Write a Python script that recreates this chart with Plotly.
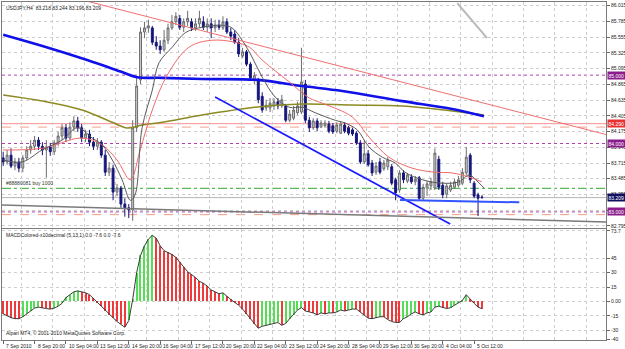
import plotly.graph_objects as go

# ---------------- data (USDJPY H4) ----------------
open_ = [83.79, 83.73, 83.83, 83.67, 83.73, 83.64, 83.79, 83.905, 83.96, 84.05,
         83.96, 83.905, 83.95, 83.88, 84.01, 84.11, 84.23, 84.08, 84.24, 84.33,
         84.23, 84.08, 84.14, 84.02, 83.96, 84.02, 83.83, 83.58, 83.64, 83.29,
         83.35, 83.115, 83.06, 83.03, 84.23, 84.93, 85.63, 85.69, 85.69, 85.48,
         85.425, 85.37, 85.51, 85.69, 85.78, 85.83, 85.70, 85.78, 85.78, 85.69,
         85.75, 85.78, 85.70, 85.75, 85.69, 85.73, 85.69, 85.78, 85.63, 85.60,
         85.48, 85.28, 85.34, 85.16, 84.93, 84.93, 84.69, 84.52, 84.52, 84.55,
         84.61, 84.55, 84.55, 84.34, 84.37, 84.45, 84.46, 84.87, 84.34, 84.23,
         84.33, 84.24, 84.26, 84.285, 84.26, 84.18, 84.15, 84.27, 84.23, 84.20,
         84.15, 84.01, 83.73, 83.85, 83.715, 83.58, 83.73, 83.63, 83.66, 83.66,
         83.47, 83.32, 83.57, 83.45, 83.51, 83.44, 83.50, 83.20, 83.35, 83.38,
         83.35, 83.77, 83.39, 83.26, 83.32, 83.36, 83.39, 83.42, 83.57, 83.83,
         83.42, 83.25, 83.218]
high = [83.88, 83.905, 83.93, 83.79, 83.79, 83.83, 83.96, 84.05, 84.11, 84.095,
        84.02, 84.05, 84.01, 84.05, 84.17, 84.285, 84.285, 84.31, 84.40, 84.39,
        84.285, 84.20, 84.20, 84.095, 84.08, 84.05, 83.905, 83.73, 83.69, 83.41,
        83.38, 83.20, 83.115, 84.34, 84.96, 85.70, 85.78, 85.81, 85.72, 85.57,
        85.51, 85.66, 85.75, 85.88, 85.92, 85.88, 85.83, 85.94, 85.83, 85.83,
        85.94, 85.86, 85.83, 85.83, 85.81, 85.81, 85.86, 85.83, 85.69, 85.66,
        85.54, 85.40, 85.37, 85.19, 85.045, 84.96, 84.75, 84.64, 84.665, 84.665,
        84.665, 84.71, 84.58, 84.49, 84.55, 84.61, 85.40, 84.93, 84.39, 84.37,
        84.37, 84.34, 84.34, 84.33, 84.30, 84.31, 84.33, 84.31, 84.26, 84.23,
        84.18, 84.05, 84.04, 83.905, 83.76, 83.73, 83.79, 83.76, 83.80, 83.70,
        83.50, 83.61, 83.61, 83.57, 83.55, 83.525, 83.525, 83.41, 83.45, 83.50,
        83.93, 83.82, 83.44, 83.42, 83.44, 83.48, 83.525, 83.64, 83.95, 83.86,
        83.45, 83.28, 83.244]
low = [83.67, 83.69, 83.64, 83.61, 83.58, 83.58, 83.76, 83.85, 83.905, 83.905,
       83.83, 83.50, 83.82, 83.83, 83.96, 84.05, 84.02, 84.05, 84.18, 84.17,
       84.02, 84.02, 83.96, 83.905, 83.905, 83.79, 83.525, 83.525, 83.17, 83.23,
       83.06, 82.93, 82.91, 82.87, 84.17, 84.87, 85.54, 85.62, 85.44, 85.37,
       85.31, 85.34, 85.455, 85.66, 85.73, 85.66, 85.63, 85.72, 85.645, 85.645,
       85.70, 85.66, 85.63, 85.54, 85.63, 85.66, 85.66, 85.60, 85.51, 85.455,
       85.265, 85.25, 85.13, 84.93, 84.87, 84.59, 84.45, 84.475, 84.46, 84.49,
       84.50, 84.52, 84.31, 84.31, 84.34, 84.42, 84.43, 84.30, 84.17, 84.20,
       84.18, 84.23, 84.23, 84.15, 84.14, 84.15, 84.14, 84.15, 84.12, 84.11,
       83.98, 83.70, 83.70, 83.66, 83.525, 83.54, 83.55, 83.60, 83.61, 83.39,
       83.17, 83.28, 83.42, 83.42, 83.41, 83.39, 83.17, 83.17, 83.23, 83.32,
       83.32, 83.32, 83.20, 83.20, 83.29, 83.335, 83.36, 83.39, 83.54, 83.42,
       83.20, 82.94, 83.196]
close = [83.73, 83.83, 83.67, 83.73, 83.64, 83.79, 83.905, 83.96, 84.05, 83.96,
         83.905, 83.95, 83.88, 84.01, 84.11, 84.23, 84.08, 84.24, 84.33, 84.23,
         84.08, 84.14, 84.02, 83.96, 84.02, 83.83, 83.58, 83.64, 83.29, 83.35,
         83.115, 83.06, 83.03, 84.23, 84.84, 85.63, 85.69, 85.72, 85.48, 85.425,
         85.37, 85.51, 85.69, 85.78, 85.86, 85.70, 85.78, 85.83, 85.69, 85.75,
         85.83, 85.70, 85.75, 85.69, 85.73, 85.70, 85.78, 85.63, 85.57, 85.48,
         85.31, 85.34, 85.16, 84.96, 84.99, 84.64, 84.49, 84.56, 84.59, 84.61,
         84.55, 84.64, 84.34, 84.43, 84.49, 84.55, 84.90, 84.34, 84.23, 84.33,
         84.23, 84.30, 84.30, 84.18, 84.17, 84.27, 84.285, 84.18, 84.15, 84.14,
         84.01, 83.73, 83.85, 83.69, 83.57, 83.67, 83.58, 83.715, 83.76, 83.42,
         83.28, 83.57, 83.47, 83.54, 83.44, 83.48, 83.20, 83.36, 83.41, 83.44,
         83.86, 83.36, 83.25, 83.38, 83.39, 83.44, 83.47, 83.58, 83.80, 83.47,
         83.23, 83.20, 83.209]

macd = [-13, -15, -17, -18, -18, -16, -13, -10, -7, -6,
        -7, -7.5, -8, -7, -5, -2, 4, 7, 10, 11,
        10, 9, 7, 3, -1, -5, -10, -14, -17, -21,
        -24, -27, -20, 2, 30, 48, 58, 65, 69, 66,
        58, 53, 51, 49, 46, 41, 36, 31, 28, 25,
        21, 19, 16, 12, 10, 8, 9, 5, 2, -1,
        -4, -8, -13, -19, -24, -28, -26, -25, -24, -23,
        -22, -25, -23, -18, -14, -9, -6.5, -10, -11, -12,
        -14, -12, -13, -12, -12, -11, -9, -10, -9, -8,
        -8, -11, -14, -17.5, -18, -17, -16, -16, -19, -21,
        -22, -22, -18, -16, -13, -11, -13, -14, -12, -11,
        -6, -5, -6.5, -7.5, -6.5, -4, -2, 1, 7, 2,
        -2, -6, -7.6]

# moving averages (bar index, price)
ma_fast_bar = [0, 4.8, 9.9, 15, 18.9, 22.7, 25.2, 27.8, 30.3, 32.4, 33.6, 35.4, 38, 39.7, 43.1, 46.4,
               50.7, 55.8, 58.3, 60.9, 63.4, 66, 69.3, 72.9, 76.2, 79.5, 84.6, 87.1, 90.2, 93.2,
               96.6, 99.9, 102.4, 106.8, 111.8, 116.2, 118.7, 121.3, 122.5]
ma_fast_val = [83.76, 83.73, 83.905, 84.05, 84.23, 84.08, 83.98, 83.76, 83.47, 83.17, 83.25, 84.23,
               84.78, 85.18, 85.41, 85.62, 85.70, 85.73, 85.69, 85.51, 85.265, 84.97, 84.68, 84.53,
               84.53, 84.45, 84.34, 84.30, 84.20, 83.95, 83.80, 83.715, 83.58, 83.47, 83.42, 83.44,
               83.54, 83.42, 83.35]
ma_red_bar = [0, 9.9, 20.1, 25.2, 29, 32.4, 34.9, 38, 41.8, 47.4, 53.2, 59.1, 62.7, 66, 72.9, 78,
              81.3, 88.9, 93.2, 98.3, 104.2, 110.1, 114.4, 118.7, 122]
ma_red_val = [83.905, 83.93, 84.08, 83.98, 83.76, 83.47, 83.905, 84.49, 85.0, 85.41, 85.51, 85.48,
              85.41, 85.22, 84.90, 84.665, 84.59, 84.39, 84.095, 83.80, 83.64, 83.58, 83.57, 83.51,
              83.44]
ma_blue_bar = [0, 10, 21.4, 30.3, 34.1, 40.5, 50.7, 64.7, 76.2, 86.4, 101.7, 114.4, 122.5]
ma_blue_val = [85.59, 85.425, 85.22, 85.045, 84.97, 84.96, 84.943, 84.93, 84.84, 84.768, 84.62,
               84.505, 84.40]
ma_olive_bar = [0, 10, 20.1, 27.8, 31.6, 35.4, 40.5, 50.7, 64.2, 76.2, 88.9, 101.7, 114.4, 122.5]
ma_olive_val = [84.71, 84.62, 84.49, 84.31, 84.227, 84.27, 84.31, 84.417, 84.53, 84.578, 84.563,
                84.548, 84.475, 84.417]
ma_grey_bar = [115.7, 123.3]
ma_grey_val = [86.054, 85.54]

# trend lines (bar index, price)
red_trend_bar = [10, 154.1]
red_trend_val = [86.249, 84.124]
channel_bar = [54.0, 113.9]
channel_val = [84.68, 82.823]
support_bar = [101.1, 131.5]
support_val = [83.175, 83.14]
grey_trend_bar = [-1, 154.1]
grey_trend_val = [83.101, 82.853]

# horizontal levels
purple_levels = [85.000, 84.000, 83.000]
red_level = 84.290
red_dash_level = 84.24
order_level = 83.345
stop_level = 82.96
bid = 83.209

price_ticks = [86.015, 85.785, 85.555, 85.325, 85.095, 84.865, 84.635, 84.405, 84.175,
               83.945, 83.715, 83.485, 83.255, 83.025, 82.795]
hidden_price_ticks = [83.025]          # covered by the 83.000 marker in the original
macd_ticks = [73.7, 45, 30, 15, 0, -15, -30, -40]
macd_tick_text = ["73.7", "45", "30", "15", "0.00", "-15", "-30", "-40"]

time_labels = ["7 Sep 2010", "8 Sep 20:00", "10 Sep 04:00", "13 Sep 12:00", "14 Sep 20:00",
               "16 Sep 04:00", "17 Sep 12:00", "20 Sep 20:00", "22 Sep 04:00", "23 Sep 12:00",
               "24 Sep 20:00", "28 Sep 04:00", "29 Sep 12:00", "30 Sep 20:00", "4 Oct 04:00",
               "5 Oct 12:00"]
time_label_bars = [0, 8, 16, 24, 32, 40, 48, 56, 64, 72, 80, 88, 96, 104, 112, 120]

title_text = "USDJPY,H4  83.218 83.244 83.196 83.209"
macd_text = "MACDColored-x10decimal (5,13,1) 0.0 -7.6 0.0 -7.6"
order_text = "#88880081 buy 1000"
copyright_text = "Alpari MT4, \u00a9 2001-2010 MetaQuotes Software Corp."

# ---------------- figure ----------------
FONT = "Liberation Sans"
FS = 5
bars = list(range(len(close)))
grid_vals = [4.6 + 8 * k for k in range(20)]
XR = [-0.3, 153.6]

fig = go.Figure()
fig.add_trace(go.Candlestick(
    x=bars, open=open_, high=high, low=low, close=close,
    increasing=dict(line=dict(color="#6c6c6c", width=1), fillcolor="#cfcfcf"),
    decreasing=dict(line=dict(color="#16167a", width=1), fillcolor="#16167a"),
    whiskerwidth=0, xaxis="x", yaxis="y", hoverinfo="skip", showlegend=False))

def line(xs, ys, color, width, dash="solid", xa="x", ya="y", shape="spline"):
    fig.add_trace(go.Scatter(x=xs, y=ys, mode="lines", xaxis=xa, yaxis=ya,
                             line=dict(color=color, width=width, dash=dash, shape=shape),
                             hoverinfo="skip", showlegend=False))

line(ma_olive_bar, ma_olive_val, "#8c8a22", 1.5)
line(ma_blue_bar, ma_blue_val, "#1010e8", 2.6)
line(ma_red_bar, ma_red_val, "#f26a6a", 1)
line(ma_fast_bar, ma_fast_val, "#5a5a5a", 1)
line(ma_grey_bar, ma_grey_val, "#b8b8b8", 2, shape="linear")
line(red_trend_bar, red_trend_val, "#f07070", 1, shape="linear")
line(channel_bar, channel_val, "#1a1aff", 1.6, shape="linear")
line(support_bar, support_val, "#3355ff", 2, shape="linear")
line(grey_trend_bar, grey_trend_val, "#7a7a7a", 1.5, shape="linear")

# MACD
cols = ["#ee3a3a"]
for i in range(1, len(macd)):
    cols.append("#55dd55" if macd[i] > macd[i - 1] else "#ee3a3a")
fig.add_trace(go.Bar(x=bars, y=macd, marker=dict(color=cols, line=dict(width=0)), width=0.3,
                     xaxis="x2", yaxis="y2", hoverinfo="skip", showlegend=False))
line(bars, macd, "#3c3c3c", 1, xa="x2", ya="y2", shape="linear")

shapes = []
def hline(y, color, dash, width=1):
    shapes.append(dict(type="line", xref="x domain", x0=0, x1=1, yref="y", y0=y, y1=y,
                       line=dict(color=color, width=width, dash=dash), layer="below"))
for lv in purple_levels:
    hline(lv, "#b040b0", "dot")
hline(red_level, "#f59090", "solid")
hline(red_dash_level, "#f5a08a", "dash")
hline(order_level, "#2ea82e", "dashdot")
hline(stop_level, "#f09a80", "dash")
hline(bid, "#b4b4b4", "solid")

annotations = []
def box(y, text, bg):
    annotations.append(dict(xref="paper", x=1, xanchor="left", xshift=1, yref="y", y=y,
                            text=text, showarrow=False, bgcolor=bg, borderpad=0.5,
                            font=dict(family=FONT, size=FS, color="white")))
for lv in purple_levels:
    box(lv, f"{lv:.3f}", "#8c1c8c")
box(red_level, f"{red_level:.3f}", "#e83030")
box(bid, f"{bid:.3f}", "#101060")

for b, t in zip(time_label_bars, time_labels):
    annotations.append(dict(xref="x2", x=b, xanchor="left", xshift=1, yref="paper", y=0,
                            yanchor="top", yshift=-0.5, text=t, showarrow=False,
                            font=dict(family=FONT, size=FS, color="#222")))
annotations.append(dict(xref="paper", x=0, xanchor="left", xshift=2, yref="paper", y=1,
                        yanchor="top", yshift=-1, text=title_text, showarrow=False,
                        font=dict(family=FONT, size=FS, color="#222")))
annotations.append(dict(xref="paper", x=0, xanchor="left", xshift=2, yref="paper", y=0.328,
                        yanchor="top", yshift=-1, text=macd_text, showarrow=False,
                        font=dict(family=FONT, size=FS, color="#222")))
annotations.append(dict(xref="paper", x=0, xanchor="left", xshift=2, yref="paper", y=0,
                        yanchor="bottom", yshift=2, text=copyright_text, showarrow=False,
                        font=dict(family=FONT, size=FS, color="#222")))
annotations.append(dict(xref="paper", x=0, xanchor="left", xshift=2, yref="y", y=order_level,
                        yanchor="bottom", yshift=0, text=order_text, showarrow=False,
                        font=dict(family=FONT, size=FS, color="#333")))

GRID = "#cdcdcd"
axis_common = dict(showline=True, mirror=True, linecolor="#7a7a7a", linewidth=1,
                   zeroline=False, automargin=False, gridcolor=GRID, griddash="dot", gridwidth=1)
fig.update_layout(
    width=625, height=349, margin=dict(l=2, r=19, t=2, b=9),
    paper_bgcolor="white", plot_bgcolor="white", bargap=0,
    font=dict(family=FONT, size=FS, color="#222"),
    xaxis=dict(domain=[0, 1], anchor="y", range=XR, tickmode="array", tickvals=grid_vals,
               showticklabels=False, ticks="", showgrid=True, rangeslider=dict(visible=False),
               **axis_common),
    yaxis=dict(domain=[0.331, 1], anchor="x", range=[82.763, 86.069], side="right",
               tickmode="array", tickvals=price_ticks,
               ticktext=["" if v in hidden_price_ticks else f"{v:.3f}" for v in price_ticks],
               ticks="outside", ticklen=3, tickcolor="#666", showgrid=True,
               tickfont=dict(size=FS, family=FONT, color="#222"), **axis_common),
    xaxis2=dict(domain=[0, 1], anchor="y2", range=XR, matches="x", tickmode="array",
                tickvals=grid_vals, showticklabels=False, ticks="", showgrid=True,
                minor=dict(tickmode="array", tickvals=time_label_bars, ticks="outside",
                           ticklen=3, tickcolor="#666", showgrid=False),
                **axis_common),
    yaxis2=dict(domain=[0, 0.328], anchor="x2", range=[-40.3, 75.5], side="right",
                tickmode="array", tickvals=macd_ticks, ticktext=macd_tick_text,
                ticks="outside", ticklen=3, tickcolor="#666", showgrid=True,
                tickfont=dict(size=FS, family=FONT, color="#222"), **axis_common),
    shapes=shapes, annotations=annotations, showlegend=False,
)

fig.write_html("out.html")
